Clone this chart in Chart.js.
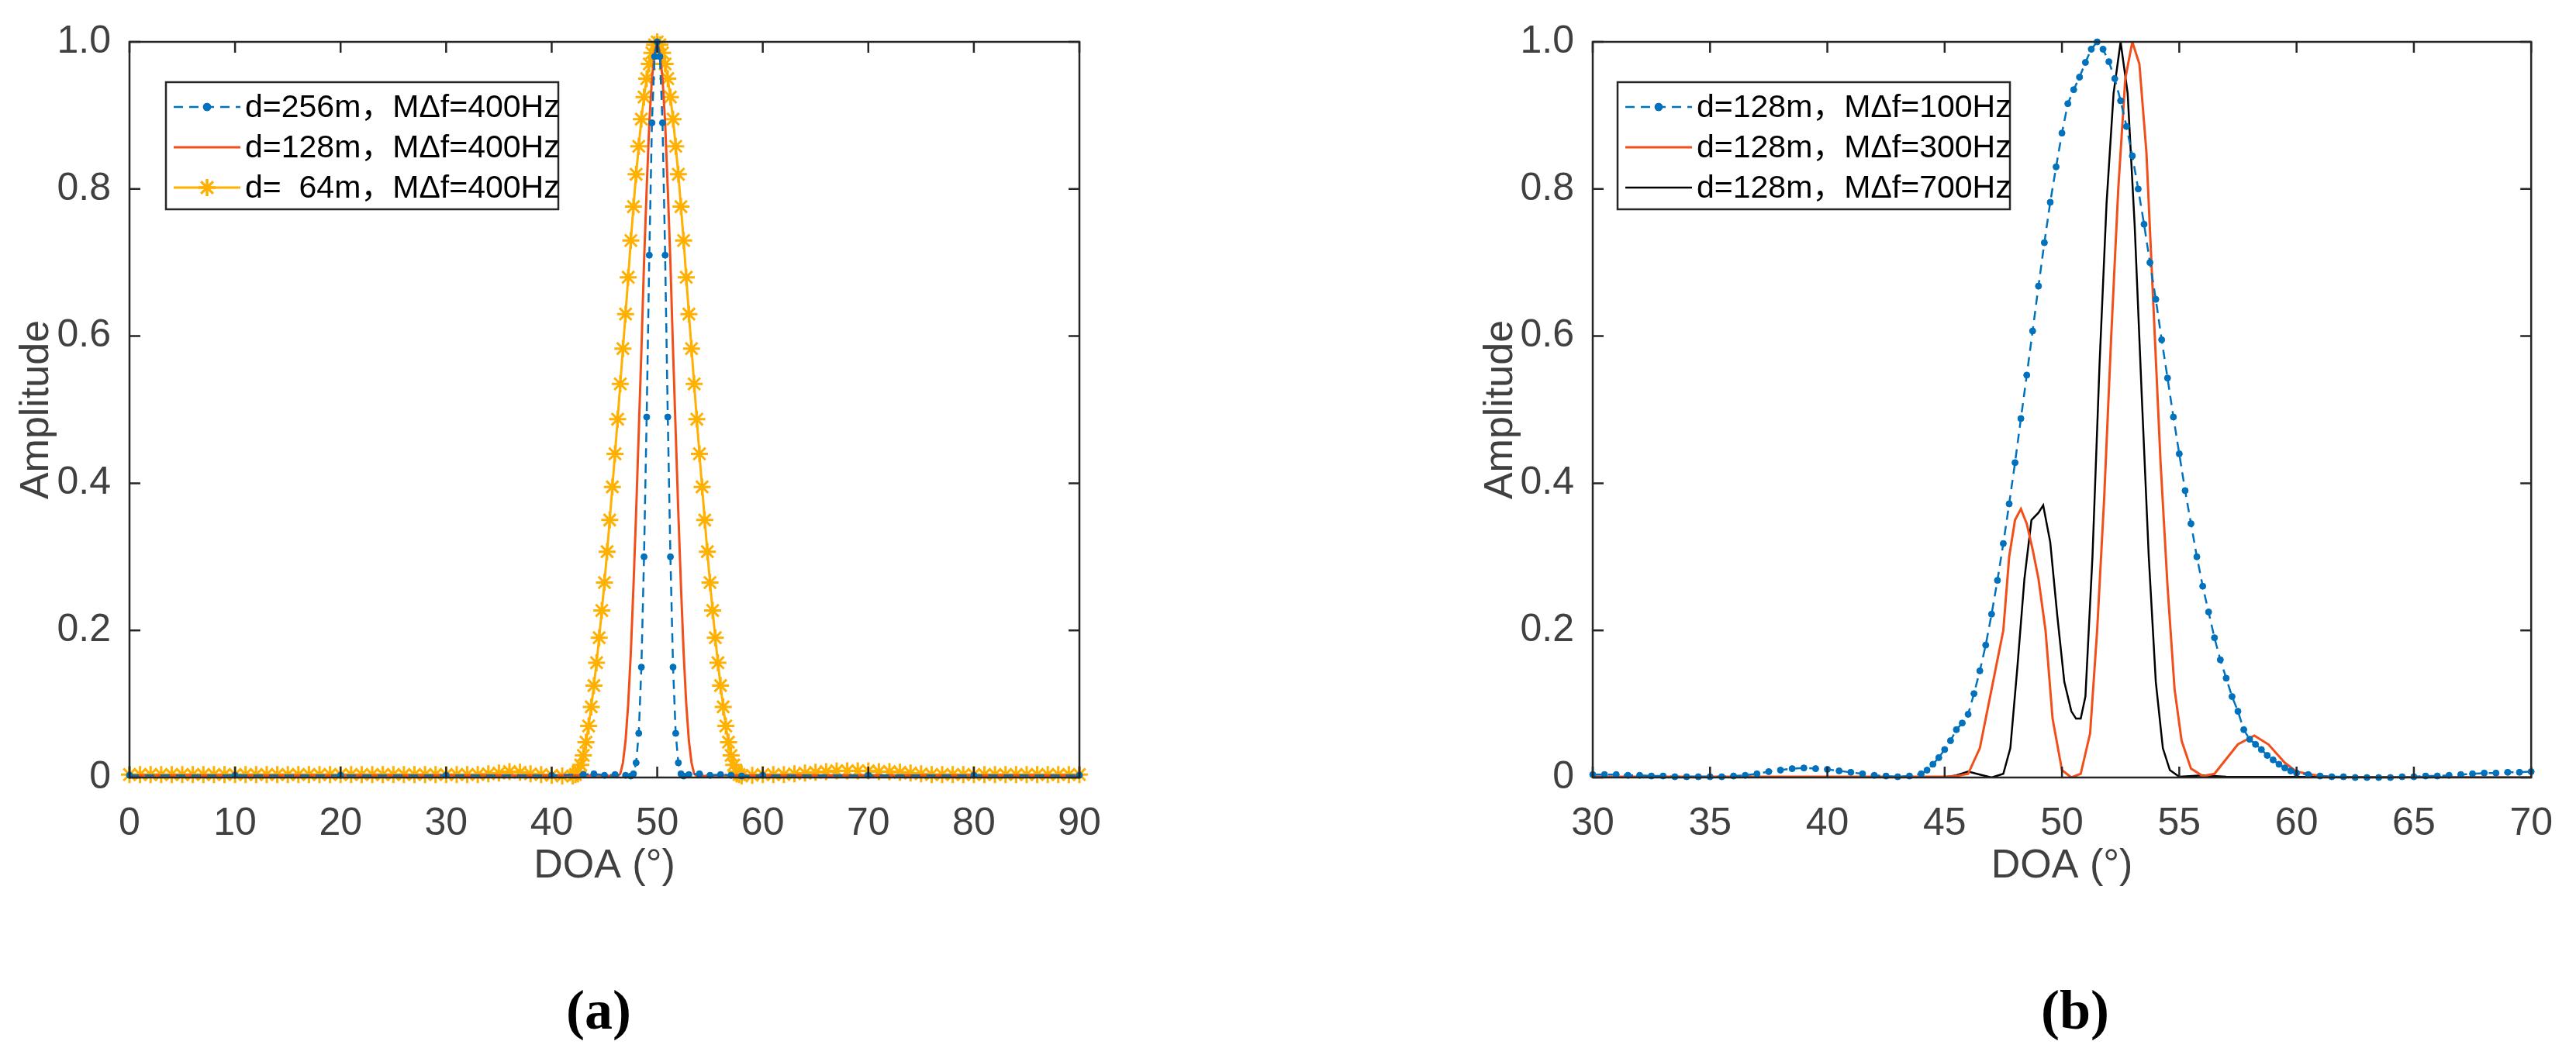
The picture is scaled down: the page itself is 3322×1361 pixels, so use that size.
<!DOCTYPE html>
<html lang="en">
<head>
  <meta charset="UTF-8">
  <title>DOA spectra</title>
  <script src="https://cdn.jsdelivr.net/npm/chart.js"></script>
  <style>
    body { margin: 0; background: #fff; width: 3322px; height: 1361px; position: relative; overflow: hidden; }
    canvas { position: absolute; top: 0; }
    .lab { position: absolute; top: 1262px; font: bold 72px "Liberation Serif", serif; color: #000; }
  </style>
</head>
<body>
  <canvas id="chartA" width="1661" height="1361" style="left:0"></canvas>
  <canvas id="chartB" width="1661" height="1361" style="left:1661px"></canvas>
  <div class="lab" style="left:730px">(a)</div>
  <div class="lab" style="left:2632px">(b)</div>

  <script>
    function range(a, b, step) {
      var out = [];
      for (var v = a; v <= b + 1e-9; v += step) out.push(Math.round(v * 100) / 100);
      return out;
    }

    // ---- panel (a): d varies, MΔf = 400 Hz ----
    var xTicksA = [0, 10, 20, 30, 40, 50, 60, 70, 80, 90];
    var labelsA = ['d=256m，MΔf=400Hz', 'd=128m，MΔf=400Hz', 'd=  64m，MΔf=400Hz'];

    var d64x = range(0, 41, 1).concat(range(42, 58, 0.25), range(59, 90, 1));
    var d64y = [
      0.004, 0.004, 0.004, 0.004, 0.004, 0.004, 0.004, 0.004, 0.004, 0.004,
      0.004, 0.004, 0.004, 0.004, 0.004, 0.004, 0.004, 0.004, 0.004, 0.004,
      0.004, 0.004, 0.004, 0.004, 0.004, 0.004, 0.004, 0.004, 0.004, 0.004,
      0.004, 0.004, 0.004, 0.004, 0.005, 0.006, 0.008, 0.007, 0.005, 0.004,
      0.003, 0.002,
      // 42 .. 58 step 0.25
      0.002, 0.004, 0.008, 0.017, 0.03, 0.048, 0.07, 0.096, 0.125, 0.156,
      0.19, 0.227, 0.265, 0.307, 0.35, 0.395, 0.44, 0.487, 0.535, 0.583,
      0.63, 0.68, 0.73, 0.776, 0.82, 0.858, 0.895, 0.925, 0.95, 0.97,
      0.985, 0.996, 1.0,
      0.996, 0.985, 0.97, 0.95, 0.925, 0.895, 0.858, 0.82, 0.776, 0.73,
      0.68, 0.63, 0.583, 0.535, 0.487, 0.44, 0.395, 0.35, 0.307, 0.265,
      0.227, 0.19, 0.156, 0.125, 0.096, 0.07, 0.048, 0.03, 0.017, 0.008,
      0.004, 0.002,
      // 59 .. 90
      0.003, 0.004, 0.004, 0.004, 0.005, 0.006, 0.007, 0.008, 0.009, 0.009,
      0.009, 0.009, 0.008, 0.008, 0.007, 0.006, 0.005, 0.004, 0.004, 0.004,
      0.004, 0.004, 0.004, 0.004, 0.004, 0.004, 0.004, 0.004, 0.004, 0.004,
      0.004, 0.004
    ];

    var d128x = [0, 20, 40, 44].concat(range(45, 55, 0.25), [56, 60, 80, 90]);
    var d128y = [0.003, 0.003, 0.003, 0.003,
      0.003, 0.003, 0.002, 0.002, 0.003, 0.002, 0.005, 0.02, 0.05, 0.10,
      0.17, 0.26, 0.36, 0.47, 0.58, 0.70, 0.80, 0.89, 0.95, 0.985, 1.0,
      0.985, 0.95, 0.89, 0.80, 0.70, 0.58, 0.47, 0.36, 0.26, 0.17,
      0.10, 0.05, 0.02, 0.005, 0.002, 0.003, 0.002, 0.002, 0.003, 0.003,
      0.003, 0.003, 0.003, 0.003];

    var d256x = [0, 10, 20, 30, 40, 43, 44, 45, 46, 47].concat(range(47.5, 52.5, 0.25), [53, 54, 55, 56, 57, 58, 60, 70, 80, 90]);
    var d256y = [0.003, 0.003, 0.003, 0.003, 0.003, 0.004, 0.005, 0.003, 0.004, 0.003,
      0.002, 0.005, 0.02, 0.06, 0.15, 0.30, 0.49, 0.71, 0.89, 0.98, 1.0,
      0.98, 0.89, 0.71, 0.49, 0.30, 0.15, 0.06, 0.02, 0.005, 0.002,
      0.004, 0.005, 0.003, 0.004, 0.003, 0.002, 0.003, 0.003, 0.003, 0.003];

    // ---- panel (b): d = 128 m, MΔf varies ----
    var xTicksB = [30, 35, 40, 45, 50, 55, 60, 65, 70];
    var labelsB = ['d=128m，MΔf=100Hz', 'd=128m，MΔf=300Hz', 'd=128m，MΔf=700Hz'];

    var f100x = range(30, 43.5, 0.5).concat(range(44, 60, 0.25), range(60.5, 70, 0.5));
    var f100y = [
      0.004, 0.004, 0.004, 0.003, 0.003, 0.002, 0.002, 0.001, 0.001, 0.001,
      0.001, 0.001, 0.002, 0.003, 0.005, 0.008, 0.010, 0.012, 0.013, 0.012,
      0.011, 0.009, 0.007, 0.005, 0.003, 0.002, 0.001, 0.002,
      // 44 .. 60 step 0.25
      0.005, 0.01, 0.018, 0.027, 0.038, 0.05, 0.065, 0.074, 0.086, 0.114,
      0.145, 0.18, 0.222, 0.268, 0.318, 0.372, 0.428, 0.488, 0.547, 0.607,
      0.668, 0.727, 0.782, 0.83, 0.876, 0.916, 0.935, 0.952, 0.972, 0.99,
      1.0, 0.99, 0.973, 0.95, 0.92, 0.885, 0.845, 0.80, 0.752, 0.70,
      0.65, 0.595, 0.543, 0.49, 0.44, 0.39, 0.345, 0.30, 0.26, 0.225,
      0.19, 0.16, 0.135, 0.11, 0.09, 0.065, 0.052, 0.045, 0.038, 0.03,
      0.024, 0.018, 0.013, 0.009, 0.006,
      // 60.5 .. 70
      0.004, 0.002, 0.001, 0.001, 0.0, 0.0, 0.0, 0.0, 0.001, 0.001,
      0.002, 0.002, 0.003, 0.004, 0.005, 0.006, 0.006, 0.007, 0.007, 0.008
    ];

    var f300x = [30, 35, 40, 45, 45.5, 46, 46.5, 47, 47.5, 47.75, 48, 48.25, 48.5, 48.75, 49, 49.3, 49.6, 50, 50.4,
      50.8, 51.2, 51.5, 51.8, 52.1, 52.4, 52.7, 53, 53.3, 53.6, 53.9, 54.2, 54.5, 54.8, 55.1, 55.5, 56,
      56.5, 57, 57.5, 58.2, 58.8, 59.5, 60, 61, 62, 70];
    var f300y = [0.001, 0.001, 0.001, 0.001, 0.002, 0.005, 0.04, 0.12, 0.2, 0.3, 0.35, 0.365, 0.345, 0.31, 0.27, 0.2, 0.08, 0.01, 0.0,
      0.005, 0.06, 0.2, 0.38, 0.6, 0.8, 0.95, 1.0, 0.97, 0.85, 0.64, 0.43, 0.26, 0.12, 0.05, 0.012, 0.002,
      0.005, 0.025, 0.045, 0.057, 0.045, 0.02, 0.008, 0.002, 0.0, 0.0];

    var f700x = [30, 40, 45, 45.5, 46, 46.5, 47, 47.5, 47.8, 48.1, 48.4, 48.7, 49, 49.2, 49.5, 49.8, 50.1, 50.4, 50.6,
      50.8, 51, 51.3, 51.6, 51.9, 52.2, 52.5, 52.8, 53.1, 53.4, 53.7, 54, 54.3, 54.6, 55, 56, 57, 70];
    var f700y = [0, 0, 0, 0.003, 0.008, 0.004, 0.0, 0.005, 0.04, 0.15, 0.27, 0.35, 0.36, 0.37, 0.32, 0.22, 0.13, 0.09, 0.08,
      0.08, 0.11, 0.3, 0.56, 0.78, 0.93, 1.0, 0.93, 0.75, 0.52, 0.3, 0.13, 0.04, 0.01, 0.001, 0.003, 0.001, 0];

    var yTicks = [0, 0.2, 0.4, 0.6, 0.8, 1];

    function pts(xs, ys) {
      var n = Math.min(xs.length, ys.length);
      var out = [];
      for (var i = 0; i < n; i++) out.push({ x: xs[i], y: ys[i] });
      return out;
    }

    var BLUE = '#0072BD', RED = '#F24E1A', YEL = '#FFB000', TXT = '#404040';
    var FONT = '"Liberation Sans", Arial, "Noto Sans CJK SC", sans-serif';

    // MATLAB-like frame, inward ticks, axis titles and boxed legend
    var matlabAxes = {
      id: 'matlabAxes',
      afterDraw: function(chart, args, o) {
        var c = chart.ctx, a = chart.chartArea;
        var xs = chart.scales.x, ys = chart.scales.y;
        c.save();
        c.strokeStyle = '#262626';
        c.lineWidth = 2.5;
        c.strokeRect(a.left, a.top, a.right - a.left, a.bottom - a.top);
        c.beginPath();
        o.xTicks.forEach(function(t) {
          var px = xs.getPixelForValue(t);
          c.moveTo(px, a.bottom); c.lineTo(px, a.bottom - 14);
          c.moveTo(px, a.top); c.lineTo(px, a.top + 14);
        });
        yTicks.forEach(function(t) {
          var py = ys.getPixelForValue(t);
          c.moveTo(a.left, py); c.lineTo(a.left + 14, py);
          c.moveTo(a.right, py); c.lineTo(a.right - 14, py);
        });
        c.stroke();

        // axis titles
        c.fillStyle = TXT;
        c.font = '52px ' + FONT;
        c.textAlign = 'center';
        c.textBaseline = 'middle';
        c.fillText('DOA (°)', (a.left + a.right) / 2, 1118);
        c.translate(o.yTitleX, (a.top + a.bottom) / 2);
        c.rotate(-Math.PI / 2);
        c.fillText('Amplitude', 0, 0);
        c.restore();

        // legend
        var L = o.legend;
        c.save();
        c.fillStyle = '#fff';
        c.fillRect(L.x, L.y, L.w, L.h);
        c.strokeStyle = '#262626';
        c.lineWidth = 2.5;
        c.strokeRect(L.x, L.y, L.w, L.h);
        c.font = '41px ' + FONT;
        c.textAlign = 'left';
        c.textBaseline = 'middle';
        chart.data.datasets.forEach(function(ds, i) {
          var cy = L.y + 32 + i * 52;
          var x0 = L.x + 10, x1 = L.x + 96;
          c.strokeStyle = ds.borderColor;
          c.lineWidth = ds.borderWidth;
          c.setLineDash(ds.borderDash || []);
          c.beginPath(); c.moveTo(x0, cy); c.lineTo(x1, cy); c.stroke();
          c.setLineDash([]);
          if (ds.pointRadius > 0) {
            Chart.helpers.drawPoint(c, {
              pointStyle: ds.pointStyle, radius: ds.pointRadius, borderWidth: ds.pointBorderWidth || 1
            }, (x0 + x1) / 2, cy);
            c.fillStyle = ds.pointBackgroundColor;
            c.strokeStyle = ds.borderColor;
            Chart.helpers.drawPoint(c, {
              pointStyle: ds.pointStyle, radius: ds.pointRadius, borderWidth: ds.pointBorderWidth || 1
            }, (x0 + x1) / 2, cy);
          }
          c.fillStyle = '#000';
          c.fillText(ds.label, L.x + 102, cy + 2);
        });
        c.restore();
      }
    };

    function makeOptions(xmin, xmax, xTicks, yAxisWidth, padRight, extra) {
      return {
        responsive: false,
        animation: false,
        devicePixelRatio: 1,
        layout: { padding: { top: 39, right: padRight, left: 0, bottom: 0 } },
        plugins: { legend: { display: false }, tooltip: { enabled: false }, matlabAxes: extra },
        elements: { line: { tension: 0 } },
        scales: {
          x: {
            type: 'linear', min: xmin, max: xmax,
            grid: { display: false, drawTicks: false }, border: { display: false },
            afterBuildTicks: function(s) { s.ticks = xTicks.map(function(v) { return { value: v }; }); },
            afterFit: function(s) { s.height = 1361 - 1003; },
            ticks: { color: TXT, font: { family: FONT, size: 50 }, padding: 30, maxRotation: 0 }
          },
          y: {
            type: 'linear', min: 0, max: 1,
            grid: { display: false, drawTicks: false }, border: { display: false },
            afterBuildTicks: function(s) { s.ticks = yTicks.map(function(v) { return { value: v }; }); },
            afterFit: function(s) { s.width = yAxisWidth; },
            ticks: { color: TXT, font: { family: FONT, size: 50 }, padding: 24 }
          }
        }
      };
    }

    new Chart(document.getElementById('chartA').getContext('2d'), {
      type: 'line',
      data: {
        datasets: [
          { label: labelsA[0], data: pts(d256x, d256y), borderColor: BLUE, backgroundColor: BLUE,
            pointBackgroundColor: BLUE, borderWidth: 2.5, borderDash: [12, 8], pointRadius: 4,
            pointStyle: 'circle', pointBorderWidth: 1, clip: false },
          { label: labelsA[1], data: pts(d128x, d128y), borderColor: RED, borderWidth: 3,
            pointRadius: 0, clip: false },
          { label: labelsA[2], data: pts(d64x, d64y), borderColor: YEL, backgroundColor: YEL,
            pointBackgroundColor: YEL, borderWidth: 3, pointStyle: 'star', pointRadius: 11,
            pointBorderWidth: 3, clip: false }
        ]
      },
      options: makeOptions(0, 90, xTicksA, 167, 1661 - 1392, {
        xTicks: xTicksA, yTitleX: 48, legend: { x: 214, y: 106, w: 506, h: 164 }
      }),
      plugins: [matlabAxes]
    });

    new Chart(document.getElementById('chartB').getContext('2d'), {
      type: 'line',
      data: {
        datasets: [
          { label: labelsB[0], data: pts(f100x, f100y), borderColor: BLUE, backgroundColor: BLUE,
            pointBackgroundColor: BLUE, borderWidth: 2.5, borderDash: [12, 8], pointRadius: 4,
            pointStyle: 'circle', pointBorderWidth: 1, clip: false },
          { label: labelsB[1], data: pts(f300x, f300y), borderColor: RED, borderWidth: 3,
            pointRadius: 0 },
          { label: labelsB[2], data: pts(f700x, f700y), borderColor: '#000000', borderWidth: 2.5,
            pointRadius: 0 }
        ]
      },
      options: makeOptions(30, 70, xTicksB, 2054 - 1661, 42, {
        xTicks: xTicksB, yTitleX: 275, legend: { x: 425, y: 106, w: 506, h: 164 }
      }),
      plugins: [matlabAxes]
    });
  </script>
</body>
</html>
